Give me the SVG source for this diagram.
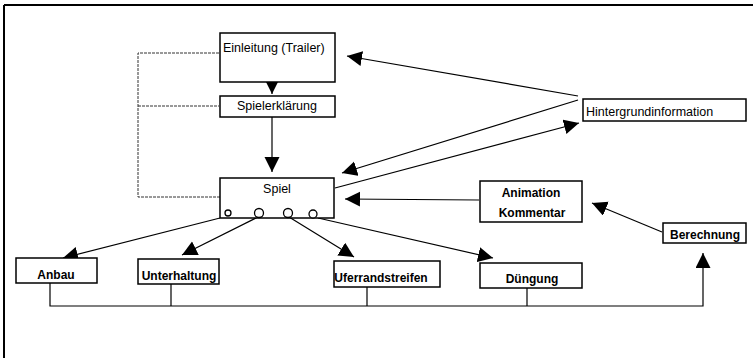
<svg xmlns="http://www.w3.org/2000/svg" width="753" height="358" viewBox="0 0 753 358">
<style>
.box{fill:#fff;stroke:#000;stroke-width:1.5}
.t{font-family:"Liberation Sans",Arial,sans-serif;font-size:12.5px;fill:#000}
.b{font-weight:bold;font-size:12px}
.c{stroke:#000;stroke-width:1.2;fill:none}
.d{stroke:#333;stroke-width:1;fill:none;stroke-dasharray:3,1}
.circ{fill:#fff;stroke:#000;stroke-width:1.3}
</style>
<defs>
<marker id="ah" markerUnits="userSpaceOnUse" markerWidth="16" markerHeight="16" refX="15" refY="7.5" orient="auto">
<path d="M0,0 L15,7.5 L0,15 z" fill="#000"/>
</marker>
</defs>
<rect width="753" height="358" fill="#fff"/>
<g id="frame">
<path d="M4,5 H753 M4,5 V358" stroke="#000" stroke-width="2" fill="none"/>
</g>
<g id="connectors">
<path class="d" d="M219,53 H138 V197 H220 M138,106 H219"/>
<path class="c" d="M578,96 L347,56" marker-end="url(#ah)"/>
<path class="c" d="M578,100 L342,173" marker-end="url(#ah)"/>
<path class="c" d="M335,188 L579,123" marker-end="url(#ah)"/>
<path class="c" d="M479,200 L345,199" marker-end="url(#ah)"/>
<path class="c" d="M662,232 L592,203" marker-end="url(#ah)"/>
<path class="c" d="M272,82 L272,94" marker-end="url(#ah)"/>
<path class="c" d="M272,117 L272,172" marker-end="url(#ah)"/>
<path class="c" d="M220,218 L63,258" marker-end="url(#ah)"/>
<path class="c" d="M258,217 L182,255" marker-end="url(#ah)"/>
<path class="c" d="M289,217 L354,257" marker-end="url(#ah)"/>
<path class="c" d="M318,218 L493,258" marker-end="url(#ah)"/>
<path class="c" d="M50,283 V306 H703 V253" marker-end="url(#ah)"/>
<path class="c" d="M171,284 V306 M367,287 V306 M527,288 V306"/>
</g>
<g id="einleitung">
<rect class="box" x="220" y="33" width="115" height="49"/>
<text class="t" x="223" y="52" font-size="13">Einleitung (Trailer)</text>
</g>
<g id="spielerklaerung">
<rect class="box" x="220" y="96" width="115" height="21"/>
<text class="t" x="277" y="110" text-anchor="middle">Spielerklärung</text>
</g>
<g id="spiel">
<rect class="box" x="220" y="178" width="114" height="40"/>
<text class="t" x="277" y="193" text-anchor="middle" font-size="16">Spiel</text>
<circle class="circ" cx="228" cy="213" r="3"/>
<circle class="circ" cx="259" cy="213" r="4.5"/>
<circle class="circ" cx="288" cy="213" r="4.5"/>
<circle class="circ" cx="313" cy="214" r="4"/>
</g>
<g id="hintergrund">
<rect class="box" x="583" y="99" width="163" height="22"/>
<text class="t" x="586" y="116" font-size="13">Hintergrundinformation</text>
</g>
<g id="animation">
<rect class="box" x="480" y="181" width="102" height="41"/>
<text class="t b" x="531" y="197" text-anchor="middle">Animation</text>
<text class="t b" x="532" y="217" text-anchor="middle">Kommentar</text>
</g>
<g id="berechnung">
<rect class="box" x="663" y="223" width="83" height="20"/>
<text class="t b" x="705" y="239" text-anchor="middle">Berechnung</text>
</g>
<g id="anbau">
<rect class="box" x="16" y="258" width="81" height="25"/>
<text class="t b" x="56" y="279" text-anchor="middle">Anbau</text>
</g>
<g id="unterhaltung">
<rect class="box" x="138" y="259" width="81" height="25"/>
<text class="t b" x="179" y="280" text-anchor="middle">Unterhaltung</text>
</g>
<g id="uferrandstreifen">
<rect class="box" x="334" y="261" width="106" height="26"/>
<text class="t b" x="381" y="282" text-anchor="middle">Uferrandstreifen</text>
</g>
<g id="duengung">
<rect class="box" x="480" y="263" width="102" height="25"/>
<text class="t b" x="532" y="283" text-anchor="middle">Düngung</text>
</g>
</svg>
